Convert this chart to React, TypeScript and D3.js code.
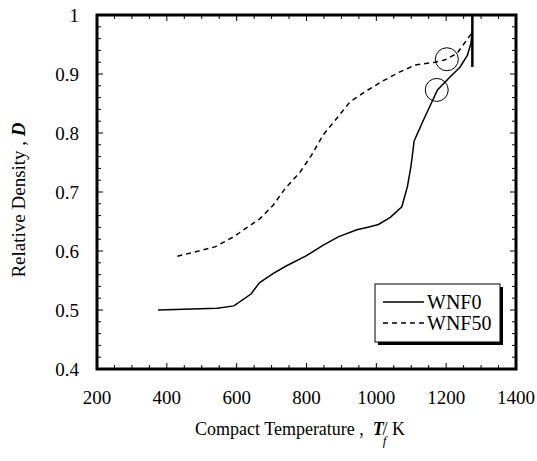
import React, { useEffect, useRef } from "react";
import * as d3 from "d3";

// WNF0 (solid) : compact temperature T (K) vs relative density D
const wnf0Temp = [375, 544, 592, 641, 665, 705, 743, 800, 848, 891, 944, 973, 1006, 1040, 1073, 1089, 1099, 1106, 1108, 1135, 1168, 1175, 1211, 1240, 1261, 1271, 1275];
const wnf0Dens = [0.5, 0.503, 0.507, 0.527, 0.546, 0.562, 0.575, 0.592, 0.61, 0.624, 0.636, 0.64, 0.645, 0.657, 0.675, 0.709, 0.743, 0.775, 0.786, 0.822, 0.864, 0.873, 0.895, 0.912, 0.932, 0.952, 0.975];

// WNF50 (dashed)
const wnf50Temp = [430, 538, 591, 667, 705, 739, 782, 815, 848, 891, 925, 968, 1015, 1062, 1110, 1168, 1197, 1231, 1273];
const wnf50Dens = [0.591, 0.607, 0.624, 0.655, 0.678, 0.706, 0.734, 0.763, 0.797, 0.828, 0.853, 0.87, 0.887, 0.902, 0.915, 0.92, 0.924, 0.935, 0.969];

// circled points and the vertical bar at full density
const circleTemp = [1202, 1173];
const circleDens = [0.925, 0.873];
const barTemp = 1275;
const barDens = [0.912, 1.0];

const xTicks = [200, 400, 600, 800, 1000, 1200, 1400];
const yTicks = [0.4, 0.5, 0.6, 0.7, 0.8, 0.9, 1];
const seriesNames = ["WNF0", "WNF50"];

const FONT = "Liberation Serif, Times New Roman, serif";

export default function App() {
  const ref = useRef<SVGSVGElement>(null);

  useEffect(() => {
    const svg = d3.select(ref.current);
    svg.selectAll("*").remove();

    const left = 97, right = 516, top = 15, bottom = 369;
    const x = d3.scaleLinear().domain([200, 1400]).range([left, right]);
    const y = d3.scaleLinear().domain([0.4, 1]).range([bottom, top]);

    const g = svg.append("g");

    // minor / major ticks, drawn inward on all four sides
    const xMinor = d3.range(200, 1401, 50);
    const yMinor = d3.range(0, 31).map((i) => 0.4 + i * 0.02);
    xMinor.forEach((v) => {
      const major = v % 200 === 0;
      const len = major ? 6 : 4;
      g.append("line").attr("x1", x(v)).attr("x2", x(v)).attr("y1", bottom).attr("y2", bottom - len).attr("stroke", "#000").attr("stroke-width", 1);
      g.append("line").attr("x1", x(v)).attr("x2", x(v)).attr("y1", top).attr("y2", top + len).attr("stroke", "#000").attr("stroke-width", 1);
    });
    yMinor.forEach((v, i) => {
      const major = i % 5 === 0;
      const len = major ? 6 : 4;
      g.append("line").attr("x1", left).attr("x2", left + len).attr("y1", y(v)).attr("y2", y(v)).attr("stroke", "#000").attr("stroke-width", 1);
      g.append("line").attr("x1", right).attr("x2", right - len).attr("y1", y(v)).attr("y2", y(v)).attr("stroke", "#000").attr("stroke-width", 1);
    });

    // frame
    g.append("rect")
      .attr("x", left).attr("y", top)
      .attr("width", right - left).attr("height", bottom - top)
      .attr("fill", "none").attr("stroke", "#000").attr("stroke-width", 3);

    // tick labels
    g.selectAll(".xl").data(xTicks).join("text")
      .attr("x", (d) => x(d)).attr("y", 397)
      .attr("text-anchor", "middle").attr("dominant-baseline", "central")
      .attr("font-family", FONT).attr("font-size", 19)
      .text((d) => String(d));
    g.selectAll(".yl").data(yTicks).join("text")
      .attr("x", 79).attr("y", (d) => y(d))
      .attr("text-anchor", "end").attr("dominant-baseline", "central")
      .attr("font-family", FONT).attr("font-size", 19)
      .text((d) => (d === 1 ? "1" : d.toFixed(1)));

    // series
    const line = d3.line<[number, number]>().x((d) => x(d[0])).y((d) => y(d[1]));
    const d0 = wnf0Temp.map((t, i) => [t, wnf0Dens[i]] as [number, number]);
    const d50 = wnf50Temp.map((t, i) => [t, wnf50Dens[i]] as [number, number]);

    g.append("path").attr("d", line(d0)).attr("fill", "none").attr("stroke", "#000").attr("stroke-width", 1.5);
    g.append("path").attr("d", line(d50)).attr("fill", "none").attr("stroke", "#000").attr("stroke-width", 1.5).attr("stroke-dasharray", "5,4");

    g.append("line")
      .attr("x1", x(barTemp)).attr("x2", x(barTemp))
      .attr("y1", y(barDens[0])).attr("y2", y(barDens[1]))
      .attr("stroke", "#000").attr("stroke-width", 2.5);

    circleTemp.forEach((t, i) => {
      g.append("circle").attr("cx", x(t)).attr("cy", y(circleDens[i])).attr("r", 11.5)
        .attr("fill", "none").attr("stroke", "#000").attr("stroke-width", 1);
    });

    // legend
    const lg = g.append("g");
    lg.append("rect").attr("x", 378).attr("y", 287).attr("width", 125).attr("height", 58).attr("fill", "#000");
    lg.append("rect").attr("x", 375).attr("y", 284).attr("width", 125).attr("height", 58).attr("fill", "#fff").attr("stroke", "#000").attr("stroke-width", 1);
    seriesNames.forEach((name, i) => {
      const ly = 302 + i * 21;
      lg.append("line").attr("x1", 383).attr("x2", 424).attr("y1", ly).attr("y2", ly)
        .attr("stroke", "#000").attr("stroke-width", 1.5)
        .attr("stroke-dasharray", i === 1 ? "5,4" : null);
      lg.append("text").attr("x", 427).attr("y", ly).attr("dominant-baseline", "central")
        .attr("font-family", FONT).attr("font-size", 20).text(name);
    });

    // axis titles
    const xt = g.append("text").attr("x", 195).attr("y", 435).attr("font-family", FONT).attr("font-size", 18);
    xt.append("tspan").text("Compact Temperature ,\u00a0\u00a0");
    xt.append("tspan").attr("font-weight", "bold").attr("font-style", "italic").text("T");
    xt.append("tspan").attr("dx", -1).attr("dy", 10).attr("font-size", 13).attr("font-style", "italic").text("f");
    xt.append("tspan").attr("dx", -4).attr("dy", -10).text("/ K");

    const yt = g.append("text")
      .attr("transform", "translate(25,200) rotate(-90)")
      .attr("text-anchor", "middle")
      .attr("font-family", FONT).attr("font-size", 19);
    yt.append("tspan").text("Relative Density , ");
    yt.append("tspan").attr("font-weight", "bold").attr("font-style", "italic").text("D");
  }, []);

  return (
    <svg ref={ref} width={537} height={461}
      style={{ position: "absolute", left: 0, top: 0, background: "#fff" }} />
  );
}
